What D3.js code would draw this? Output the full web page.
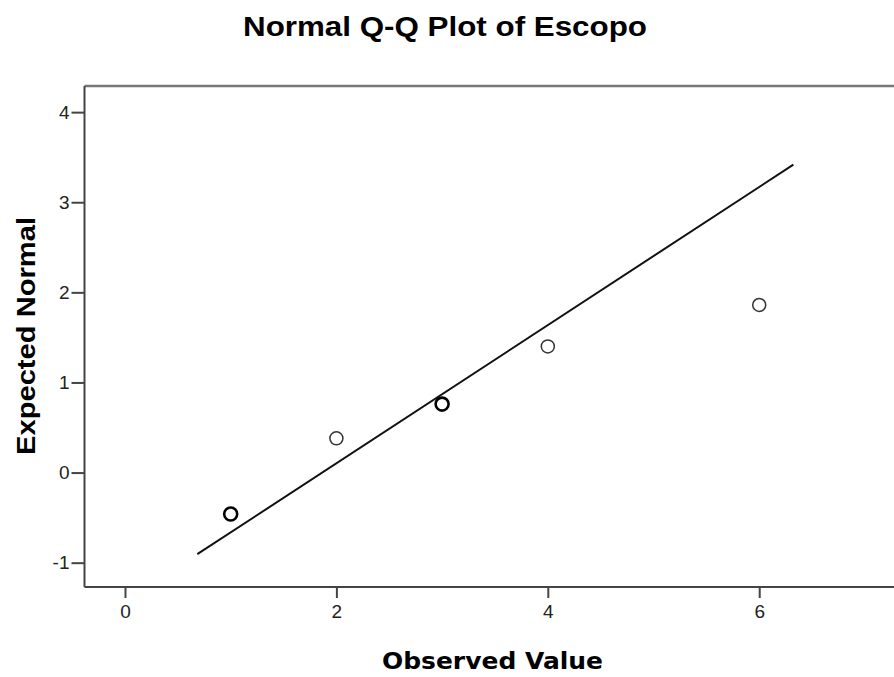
<!DOCTYPE html>
<html><head><meta charset="utf-8">
<script src="https://cdn.jsdelivr.net/npm/d3@7"></script>
<style>body{margin:0;background:#fff}svg{display:block}</style>
</head><body>
<script>
const observed = [1, 2, 3, 4, 6];
const expectedNormal = [-0.46, 0.38, 0.76, 1.40, 1.86];
const tiedCount = [2, 1, 2, 1, 1];
const lineX = [0.684, 6.323];
const lineY = [-0.906, 3.417];
const xTicks = [0, 2, 4, 6];
const yTicks = [-1, 0, 1, 2, 3, 4];

(function () {
const W = 894, H = 677;
const svg = d3.select("body").append("svg").attr("width", W).attr("height", H);
const pL = 84.5, pT = 86, pB = 587, pR = 894;
const x = d3.scaleLinear().domain([-0.383, 7.275]).range([pL, pR]);
const y = d3.scaleLinear().domain([-1.27, 4.29]).range([pB, pT]);
const fmt = d => String(d);

svg.append("text").attr("x", 243).attr("y", 36)
  .attr("textLength", 404).attr("lengthAdjust", "spacingAndGlyphs")
  .style("font-family", "Liberation Sans, Arial, sans-serif").style("font-weight", "bold")
  .style("font-size", "27px").attr("fill", "#000").text("Normal Q-Q Plot of Escopo");

svg.append("line").attr("x1", pL).attr("x2", pR).attr("y1", pT).attr("y2", pT)
  .attr("stroke", "#777").attr("stroke-width", 2.5);

const ya = svg.append("g").attr("transform", `translate(${pL},0)`)
  .call(d3.axisLeft(y).tickValues(yTicks).tickSize(13).tickPadding(2).tickFormat(fmt));
const xa = svg.append("g").attr("transform", `translate(0,${pB})`)
  .call(d3.axisBottom(x).tickValues(xTicks).tickSize(11).tickPadding(7).tickFormat(fmt));
[ya, xa].forEach(g => {
  g.attr("font-size", null).attr("font-family", null);
  g.select(".domain").attr("stroke", "#444").attr("stroke-width", 2);
  g.selectAll(".tick line").attr("stroke", "#444").attr("stroke-width", 2);
  g.selectAll(".tick text").style("font-family", "Liberation Sans, Arial, sans-serif")
    .style("font-size", "19px").attr("fill", "#222");
});
ya.select(".domain").attr("d", `M0,${pT}V${pB}`);
xa.select(".domain").attr("d", `M${pL},0H${pR}`);

svg.append("text").attr("transform", "translate(35,455) rotate(-90)")
  .attr("textLength", 238).attr("lengthAdjust", "spacingAndGlyphs")
  .style("font-family", "Liberation Sans, Arial, sans-serif").style("font-weight", "bold")
  .style("font-size", "26px").attr("fill", "#000").text("Expected Normal");
svg.append("text").attr("x", 382).attr("y", 669)
  .attr("textLength", 221).attr("lengthAdjust", "spacingAndGlyphs")
  .style("font-family", "DejaVu Sans, Verdana, sans-serif").style("font-weight", "bold")
  .style("font-size", "23px").attr("fill", "#000").text("Observed Value");

svg.append("line").attr("x1", x(lineX[0])).attr("y1", y(lineY[0]))
  .attr("x2", x(lineX[1])).attr("y2", y(lineY[1])).attr("stroke", "#111").attr("stroke-width", 2);

svg.selectAll("circle.pt").data(observed.map((v, i) => ({v, e: expectedNormal[i], c: tiedCount[i]})))
  .enter().append("circle").attr("class", "pt")
  .attr("cx", d => x(d.v)).attr("cy", d => y(d.e)).attr("r", 6.5)
  .attr("fill", "none").attr("stroke", d => d.c > 1 ? "#000" : "#333")
  .attr("stroke-width", d => d.c > 1 ? 2.6 : 1.5);
})();
</script>
</body></html>
